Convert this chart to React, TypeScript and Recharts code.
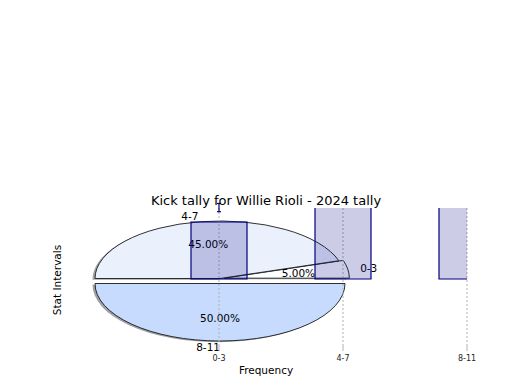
import React from 'react';
import { BarChart, Bar, XAxis, YAxis, CartesianGrid, ErrorBar, PieChart, Pie, Cell } from 'recharts';

// ---- data ----
const intervals = ['0-3', '4-7', '8-11'];
const kickCounts = [1, 9, 10];
const kickErrors: ([number, number] | null)[] = [[-0.23, 0.35], null, null];
const xTickPositions = [0, 1, 2];
const xDomain: [number, number] = [-1, 2];
const titleText = 'Kick tally for Willie Rioli - 2024 tally';
const xLabelText = 'Frequency';
const yLabelText = 'Stat Intervals';

// ---- styles / geometry ----
const W = 520;
const H = 390;
const FONT = "'DejaVu Sans', 'Liberation Sans', sans-serif";
const PIE_CX = 220;
const PIE_CY = 278.5;
const PIE_R = 125;
const SQUASH = 0.46;
const explode = [0.035, 0, 0.087];
const sliceColors = ['#fdfeff', '#eaf1fd', '#c6dbfe'];
const NAVY = '#000080';

const rows = intervals.map((name, i) => ({ name, pos: i, count: kickCounts[i], err: kickErrors[i] }));
const errorRows = rows.filter((r) => r.err);
const pieRows = intervals.map((name, i) => ({ name, value: kickCounts[i] }));
const total = kickCounts.reduce((a, b) => a + b, 0);

const midAngles = (() => {
  let acc = 0;
  return kickCounts.map((v) => {
    const s = acc;
    acc += v;
    return ((s + v / 2) / total) * 360;
  });
})();

const centers = midAngles.map((m, i) => {
  const r = (m * Math.PI) / 180;
  return { x: PIE_CX + explode[i] * PIE_R * Math.cos(r), y: PIE_CY - explode[i] * PIE_R * Math.sin(r) };
});

function shade(hex: string, f: number) {
  const n = parseInt(hex.slice(1), 16);
  const r = Math.round(((n >> 16) & 255) * f);
  const g = Math.round(((n >> 8) & 255) * f);
  const b = Math.round((n & 255) * f);
  return `rgb(${r},${g},${b})`;
}

const squashY = (y: number) => PIE_CY + (y - PIE_CY) * SQUASH;

const makeLabel = (target: number) => (p: any) => {
  if (p.index !== target) return <g />;
  const rad = (Math.PI / 180) * p.midAngle;
  const c = Math.cos(rad);
  const s = Math.sin(rad);
  const lx = p.cx + 1.1 * p.outerRadius * c;
  const ly = squashY(p.cy - 1.1 * p.outerRadius * s);
  const px = p.cx + 0.6 * p.outerRadius * c;
  const py = squashY(p.cy - 0.6 * p.outerRadius * s);
  const name = intervals[p.index];
  return (
    <g>
      <text x={lx} y={ly} textAnchor={c < 0 ? 'end' : 'start'} dominantBaseline="central" fontSize={10.5} fontFamily={FONT} fill="#000">
        {name}
      </text>
      <text x={px} y={py} textAnchor="middle" dominantBaseline="central" fontSize={10.5} fontFamily={FONT} fill="#000">
        {(p.percent * 100).toFixed(2)}%
      </text>
    </g>
  );
};

const gridX = (props: any) => {
  const sc = props?.xAxis?.scale;
  if (typeof sc === 'function') return xTickPositions.map((v) => sc(v));
  const off = props.offset;
  return xTickPositions.map((v) => off.left + ((v - xDomain[0]) / (xDomain[1] - xDomain[0])) * off.width);
};

const layer: React.CSSProperties = { position: 'absolute', left: 0, top: 0, width: W, height: H };

export default function App() {
  return (
    <div style={{ position: 'absolute', left: 0, top: 0, width: W, height: H, background: '#fff', fontFamily: FONT }}>
      <style>{`
        .pie-layer .recharts-pie { transform: matrix(1,0,0,${SQUASH},0,${PIE_CY * (1 - SQUASH)}); }
        .pie-layer .recharts-pie-labels { transform: none; }
        .pie-layer path { vector-effect: non-scaling-stroke; }
      `}</style>

      {/* Pie layer (squashed into an ellipse) */}
      <div className="pie-layer" style={layer}>
        <PieChart width={W} height={H} margin={{ top: 0, right: 0, bottom: 0, left: 0 }}>
          {intervals.map((_, t) => (
            <Pie
              key={'shadow' + t}
              data={pieRows}
              dataKey="value"
              nameKey="name"
              cx={centers[t].x - 2.5}
              cy={centers[t].y + 2.5}
              outerRadius={PIE_R}
              startAngle={0}
              endAngle={360}
              isAnimationActive={false}
              label={false}
              labelLine={false}
            >
              {pieRows.map((_, i) => (
                <Cell key={i} fill={i === t ? shade(sliceColors[i], 0.3) : 'none'} fillOpacity={0.5} stroke="none" />
              ))}
            </Pie>
          ))}
          {intervals.map((_, t) => (
            <Pie
              key={'slice' + t}
              data={pieRows}
              dataKey="value"
              nameKey="name"
              cx={centers[t].x}
              cy={centers[t].y}
              outerRadius={PIE_R}
              startAngle={0}
              endAngle={360}
              isAnimationActive={false}
              label={makeLabel(t)}
              labelLine={false}
            >
              {pieRows.map((_, i) => (
                <Cell
                  key={i}
                  fill={i === t ? sliceColors[i] : 'none'}
                  stroke={i === t ? '#1a1a1a' : 'none'}
                  strokeWidth={0.9}
                />
              ))}
            </Pie>
          ))}
        </PieChart>
      </div>

      {/* Bar layer */}
      <div style={layer}>
        <BarChart width={W} height={H} data={rows} margin={{ top: 208, right: 53, bottom: 14, left: 95 }}>
          <CartesianGrid
            horizontal={false}
            stroke="#b0b0b0"
            strokeDasharray="2 2"
            verticalCoordinatesGenerator={gridX}
          />
          <XAxis
            dataKey="pos"
            type="number"
            domain={xDomain}
            ticks={xTickPositions}
            interval={0}
            allowDataOverflow
            tickFormatter={(v: number) => intervals[v] ?? ''}
            axisLine={false}
            tickLine={{ stroke: '#b0b0b0' }}
            tickSize={5}
            tickMargin={4}
            height={30}
            tick={{ fontSize: 8, fill: '#222', fontFamily: FONT }}
          />
          <YAxis hide type="number" domain={[-1.175, 1.246]} allowDataOverflow />
          <Bar
            dataKey="count"
            barSize={56}
            fill={NAVY}
            fillOpacity={0.2}
            stroke={NAVY}
            strokeWidth={1.2}
            isAnimationActive={false}
          />
        </BarChart>
      </div>

      {/* Error bar layer (not clipped) */}
      <div style={layer}>
        <BarChart width={W} height={H} data={errorRows} margin={{ top: 195, right: 53, bottom: 14, left: 95 }}>
          <XAxis dataKey="pos" type="number" domain={xDomain} ticks={xTickPositions} hide height={30} />
          <YAxis hide type="number" domain={[-1.175, 1.474]} />
          <Bar dataKey="count" barSize={56} fill="none" stroke="none" isAnimationActive={false}>
            <ErrorBar dataKey="err" width={2} stroke={NAVY} strokeWidth={1.2} />
          </Bar>
        </BarChart>
      </div>

      {/* Text layer */}
      <svg width={W} height={H} style={{ position: 'absolute', left: 0, top: 0 }}>
        <text x={266} y={200} textAnchor="middle" dominantBaseline="central" fontSize={13} fontFamily={FONT} fill="#000">
          {titleText}
        </text>
        <text x={266} y={370} textAnchor="middle" dominantBaseline="central" fontSize={10.5} fontFamily={FONT} fill="#000">
          {xLabelText}
        </text>
        <text
          transform="translate(57 280) rotate(-90)"
          textAnchor="middle"
          dominantBaseline="central"
          fontSize={10.5}
          fontFamily={FONT}
          fill="#000"
        >
          {yLabelText}
        </text>
      </svg>
    </div>
  );
}
